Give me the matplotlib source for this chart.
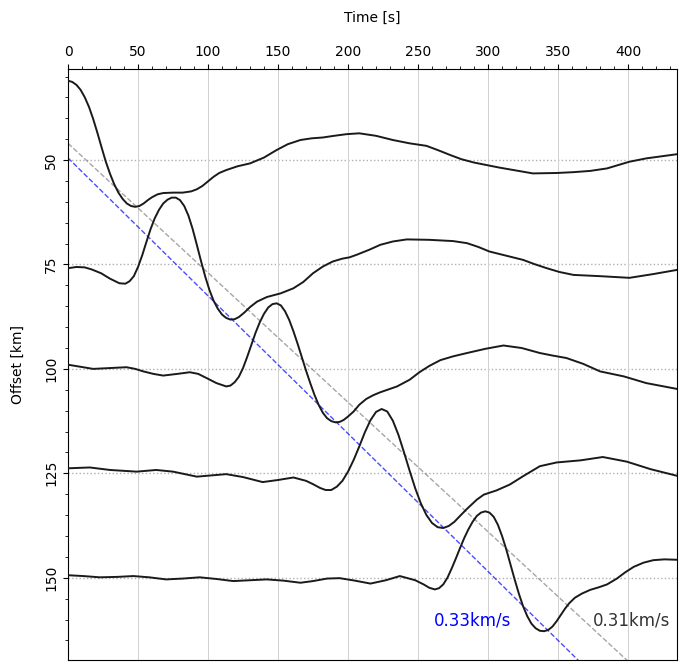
import numpy as np
import matplotlib
matplotlib.use("Agg")
import matplotlib.pyplot as plt
from matplotlib.ticker import MultipleLocator

# baselines of the five stations (km)
offsets = [50, 75, 100, 125, 150]

# traces: time (s) and plotted offset (km)
t1 = [0, 3, 6, 9, 12, 15, 18, 21, 24, 27, 30, 33, 36, 39, 42, 45, 48, 51, 54, 57, 60, 64, 68,
      75, 82, 88, 92, 96, 100, 104, 108, 113, 121, 130, 140, 149, 157, 166, 174, 182, 190,
      199, 208, 220, 232, 244, 256, 264, 273, 281, 290, 299, 308, 320, 332, 349, 361, 373,
      385, 393, 401, 413, 424, 435]
y1 = [31.0, 31.3, 32.0, 33.2, 35.0, 37.3, 40.2, 43.5, 47.0, 50.4, 53.3, 55.8, 57.8, 59.3,
      60.4, 61.0, 61.2, 61.0, 60.4, 59.6, 58.9, 58.2, 57.9, 57.8, 57.8, 57.5, 57.0, 56.2, 55.1,
      54.0, 53.1, 52.4, 51.5, 50.8, 49.4, 47.6, 46.2, 45.2, 44.8, 44.6, 44.2, 43.8, 43.6, 44.2,
      45.2, 46.0, 46.6, 47.6, 48.8, 49.8, 50.6, 51.2, 51.8, 52.5, 53.2, 53.1, 52.9, 52.6, 52.0,
      51.2, 50.4, 49.6, 49.1, 48.6]

t2 = [0, 6, 12, 17, 23.6, 30, 36.7, 41, 44, 47, 50, 53, 56, 59, 62, 65, 68, 71, 74, 77, 80,
      83, 86, 89, 92, 95, 98, 101, 104, 107, 110, 113, 116, 119, 122, 126, 130, 135, 142, 152,
      161, 168, 175, 182, 189, 196, 201, 206, 215, 223, 232, 242, 258, 275, 285, 293, 301,
      313, 325, 333, 342, 351, 361, 380, 401, 418, 435]
y2 = [75.9, 75.6, 75.7, 76.2, 77.1, 78.4, 79.5, 79.6, 79.0, 77.8, 75.6, 72.8, 69.6, 66.5,
      63.9, 61.9, 60.4, 59.5, 59.0, 59.0, 59.6, 61.0, 63.3, 66.5, 70.3, 74.2, 77.9, 81.1, 83.7,
      85.6, 87.0, 87.8, 88.2, 88.1, 87.6, 86.5, 85.2, 83.9, 82.8, 81.9, 80.7, 79.2, 77.1, 75.5,
      74.3, 73.6, 73.3, 72.7, 71.5, 70.3, 69.5, 69.0, 69.1, 69.4, 69.9, 70.8, 71.9, 72.9, 73.9,
      74.9, 75.9, 76.8, 77.5, 77.8, 78.2, 77.3, 76.3]

t3 = [0, 9, 18, 30, 41.7, 48, 53.8, 61, 68, 78, 87, 93, 99, 106, 113, 116, 119, 122, 125,
      128, 131, 134, 137, 140, 143, 146, 149, 152, 155, 158, 161, 164, 167, 170, 173, 176,
      179, 182, 185, 188, 191, 194, 197, 200, 204, 208, 213, 218, 223, 235, 244, 251, 258,
      266, 275, 285, 298, 311, 324, 337, 346, 356, 368, 380, 397, 413, 424, 435]
y3 = [99.0, 99.5, 100.0, 99.8, 99.6, 100.0, 100.6, 101.2, 101.6, 101.2, 100.8, 101.2, 102.2,
      103.4, 104.2, 104.0, 103.2, 101.9, 99.8, 97.1, 94.2, 91.3, 88.8, 86.8, 85.3, 84.5, 84.3,
      84.8, 86.2, 88.3, 91.0, 94.0, 97.2, 100.4, 103.4, 106.2, 108.6, 110.5, 111.8, 112.5,
      112.8, 112.7, 112.2, 111.4, 110.2, 108.6, 107.2, 106.3, 105.6, 104.2, 102.6, 100.8, 99.3,
      97.9, 97.0, 96.2, 95.2, 94.4, 95.0, 96.2, 96.8, 97.4, 98.8, 100.6, 101.8, 103.4, 104.1,
      104.8]

t4 = [0, 15.5, 30, 49, 63, 75, 92, 113, 125, 139, 150, 161, 170, 175, 180, 184, 188, 192,
      196, 200, 204, 208, 212, 216, 220, 224, 228, 232, 236, 240, 244, 248, 252, 256, 260,
      264, 268, 272, 276, 280, 285, 292, 297, 306, 315.5, 325, 337, 349, 366, 382, 399, 416,
      435]
y4 = [123.8, 123.6, 124.2, 124.6, 124.2, 124.6, 125.8, 125.2, 125.9, 127.1, 126.6, 126.0,
      126.8, 127.6, 128.5, 129.0, 129.0, 128.2, 126.8, 124.6, 121.8, 118.6, 115.2, 112.3,
      110.3, 109.6, 110.2, 112.4, 115.8, 120.0, 124.4, 128.6, 132.2, 135.0, 136.9, 137.9,
      138.1, 137.6, 136.6, 135.2, 133.5, 131.3, 130.1, 129.1, 127.7, 125.7, 123.3, 122.4,
      121.9, 121.1, 122.2, 124.0, 125.6]

t5 = [0, 11, 22.6, 35, 46.7, 58, 70, 82, 94, 106, 118, 130, 142, 154, 166, 175, 185, 194, 205,
      216, 227, 237, 248, 254, 258, 262, 265, 268, 271, 274, 277, 280, 283, 286, 289, 292, 295,
      298, 301, 304, 307, 310, 313, 316, 319, 322, 325, 328, 331, 334, 337, 340, 343, 346, 349,
      352, 355, 358, 362, 367, 373, 379, 385, 392, 398, 404, 411, 418, 426, 435]
y5 = [149.4, 149.6, 149.9, 149.8, 149.6, 149.9, 150.4, 150.2, 149.9, 150.3, 150.8, 150.6,
      150.4, 150.7, 151.2, 150.8, 150.2, 150.1, 150.7, 151.4, 150.6, 149.6, 150.6, 151.6, 152.4,
      152.8, 152.5, 151.6, 150.0, 147.8, 145.4, 142.9, 140.5, 138.4, 136.6, 135.2, 134.4, 134.1,
      134.4, 135.4, 137.3, 140.0, 143.2, 146.8, 150.4, 153.8, 156.8, 159.2, 161.0, 162.1, 162.7,
      162.8, 162.5, 161.7, 160.4, 158.9, 157.4, 156.1, 154.8, 153.8, 152.9, 152.3, 151.6, 150.2,
      148.7, 147.4, 146.4, 145.8, 145.6, 145.7]

trace_t = [t1, t2, t3, t4, t5]
trace_y = [y1, y2, y3, y4, y5]

# apparent velocity lines: intercept (km), velocity (km/s), line colour, label, label colour, label time
vel_lines = [(46.0, 0.31, "gray", "0.31km/s", "#333333", 375),
             (49.5, 0.33, "blue", "0.33km/s", "blue", 261.5)]
label_offset = 160.3

t_max = 435

fig = plt.figure(figsize=(6.85, 6.64), dpi=100)
ax = fig.add_axes([0.0993, 0.006, 0.8891, 0.8901])

for tt, yy in zip(trace_t, trace_y):
    ax.plot(tt, yy, color="#1a1a1a", lw=1.4, zorder=3, solid_joinstyle="round")

tline = np.array([0, t_max])
for x0, v, col, txt, tcol, tx in vel_lines:
    ax.plot(tline, x0 + v * tline, ls="--", color=col, lw=1.0, alpha=0.7, zorder=2)
    ax.text(tx, label_offset, txt, color=tcol, fontsize=12, ha="left", va="center")

for off in offsets:
    ax.axhline(off, color="#b0b0b0", ls=":", lw=1.0, zorder=1)
ax.grid(axis="x", color="#d0d0d0", lw=0.7)

ax.set_xlim(0, t_max)
ax.set_ylim(169.7, 28.2)
ax.xaxis.tick_top()
ax.xaxis.set_label_position("top")
ax.set_xlabel("Time [s]", fontsize=10, labelpad=17)
ax.set_ylabel("Offset [km]", fontsize=10, labelpad=14)
ax.xaxis.set_major_locator(MultipleLocator(50))
ax.xaxis.set_minor_locator(MultipleLocator(10))
ax.set_yticks(offsets)
ax.yaxis.set_minor_locator(MultipleLocator(5))
ax.tick_params(axis="both", labelsize=10)
ax.tick_params(axis="y", labelrotation=90)
for lab in ax.get_yticklabels():
    lab.set_va("center")

fig.savefig("out.png", dpi=100)
